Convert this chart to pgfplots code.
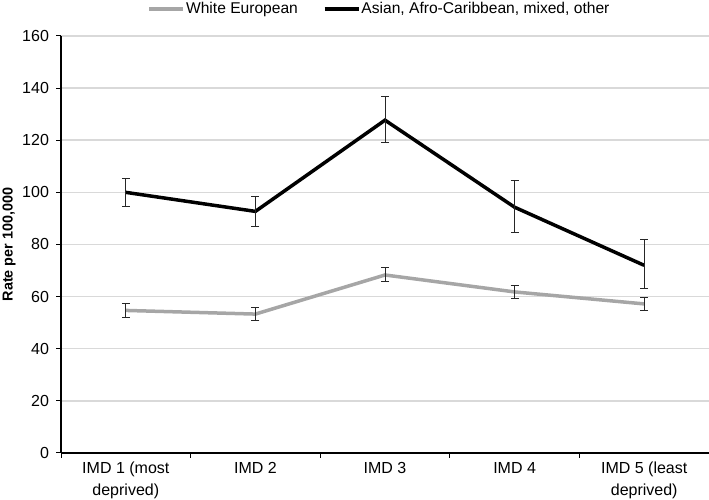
\documentclass[border=0pt]{standalone}
\usepackage{pgfplots}
\pgfplotsset{compat=1.18}
\usepackage{fontspec}
\setmainfont{Liberation Sans}
\definecolor{lgray}{RGB}{166,166,166}
\definecolor{gridc}{RGB}{217,217,217}
\begin{document}
\begin{tikzpicture}
\begin{axis}[
  name=ax,
  scale only axis,
  width=324pt, height=208.5pt,
  xmin=-0.5, xmax=4.5,
  ymin=0, ymax=160,
  ytick={0,20,...,160},
  xtick={0,1,2,3,4},
  xticklabels={{IMD 1 (most\\deprived)},{IMD 2},{IMD 3},{IMD 4},{IMD 5 (least\\deprived)}},
  xticklabel style={align=center, font=\fontsize{8}{10.8}\selectfont, yshift=1.5pt},
  yticklabel style={font=\fontsize{8}{9}\selectfont},
  minor xtick={-0.5,0.5,1.5,2.5,3.5,4.5},
  major x tick style={draw=none},
  minor x tick style={black, line width=0.5pt},
  y tick style={black, line width=0.5pt},
  tick align=outside,
  major tick length=2.5pt, minor tick length=2.5pt,
  axis x line*=bottom, axis y line*=left,
  axis line style={black, line width=0.6pt, -},
  ymajorgrids, grid style={gridc, line width=0.75pt},
  ylabel={Rate per 100,000},
  every axis y label/.style={at={(rel axis cs:0,0.5)}, rotate=90, anchor=center, yshift=26pt, font=\bfseries\fontsize{7.2}{8}\selectfont},
  /pgf/number format/assume math mode=true,
  legend style={at={(0.5,1)}, anchor=center, yshift=13.5pt, xshift=-3pt, draw=none, fill=none,
    legend columns=2, font=\fontsize{7.8}{9}\selectfont,
    /tikz/every even column/.append style={column sep=12pt},
    nodes={inner xsep=0.5pt, inner ysep=1pt},
    inner sep=0pt},
  legend image code/.code={\draw[#1] (0pt,0pt) -- (17pt,0pt);},
  legend cell align=left,
  error bars/error bar style={black!85, line width=0.5pt},
  error bars/error mark options={rotate=90, mark size=2pt, black!85, line width=0.5pt},
  clip=false,
]
\addplot[lgray, line width=1.75pt, mark=none,
  error bars/.cd, y dir=both, y explicit]
  coordinates {
  (0,54.7) +=(0,2.8) -=(0,2.7)
  (1,53.3) +=(0,2.5) -=(0,2.3)
  (2,68.3) +=(0,2.7) -=(0,2.6)
  (3,61.8) +=(0,2.5) -=(0,2.5)
  (4,57.2) +=(0,2.4) -=(0,2.4)
  };
\addlegendentry{White European}
\addplot[black, line width=1.75pt, mark=none,
  error bars/.cd, y dir=both, y explicit]
  coordinates {
  (0,100.0) +=(0,5.3) -=(0,5.5)
  (1,92.7) +=(0,5.8) -=(0,5.7)
  (2,127.7) +=(0,9.2) -=(0,8.7)
  (3,94.3) +=(0,10.2) -=(0,9.8)
  (4,72.0) +=(0,9.8) -=(0,9.0)
  };
\addlegendentry{Asian, Afro-Caribbean, mixed, other}
\end{axis}
\pgfresetboundingbox
\path[use as bounding box] ([xshift=-30.5pt,yshift=-23.5pt]ax.south west) rectangle ([yshift=18pt]ax.north east);
\end{tikzpicture}
\end{document}
